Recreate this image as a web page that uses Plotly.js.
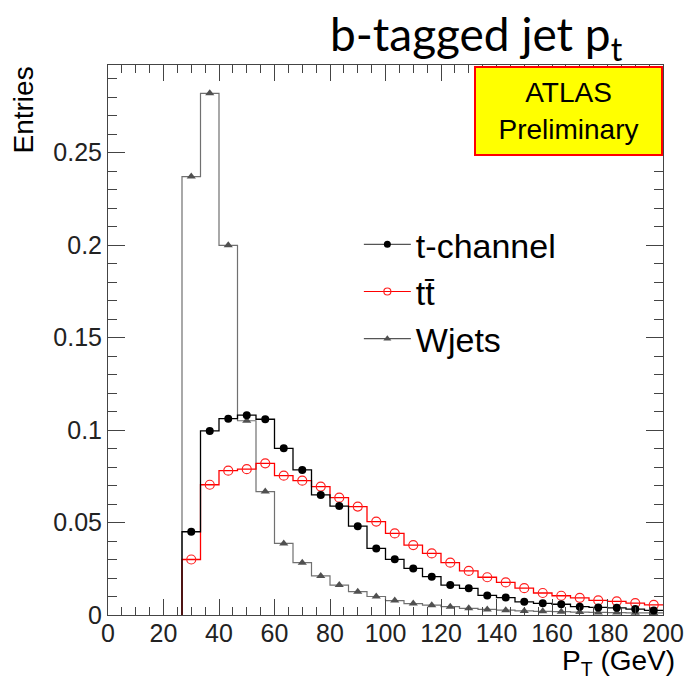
<!DOCTYPE html>
<html>
<head>
<meta charset="utf-8">
<script src="https://cdn.plot.ly/plotly-3.0.1.min.js"></script>
<style>html,body{margin:0;padding:0;background:#fff;}#chart{width:686px;height:681px;}</style>
</head>
<body>
<div id="chart"></div>
<script>
// Histogram binning: 30 bins from 0 to 200 GeV
const nBins = 30;
const xMin = 0;
const xMax = 200;

const seriesNames = ["t-channel", "tt\u0304", "Wjets"];

// Bin contents (normalised entries), one value per bin
const tChannel = [0, 0, 0, 0,
  0.045, 0.0995, 0.1061, 0.108, 0.1058, 0.0901, 0.0784, 0.0649, 0.0589, 0.048,
  0.036, 0.0301, 0.0252, 0.0207, 0.0162, 0.0144, 0.0106, 0.0094, 0.0071, 0.0063,
  0.0058, 0.0045, 0.0041, 0.0039, 0.0032, 0.0025];
const ttbar = [0, 0, 0, 0,
  0.030, 0.0704, 0.078, 0.0788, 0.082, 0.0753, 0.0726, 0.0694, 0.0634, 0.0586,
  0.0505, 0.0441, 0.0378, 0.0333, 0.0283, 0.0238, 0.0204, 0.0176, 0.0145, 0.0119,
  0.0104, 0.0093, 0.0079, 0.0074, 0.0064, 0.0055];
const wjets = [0, 0, 0, 0,
  0.237, 0.282, 0.1998, 0.105, 0.0667, 0.0387, 0.0283, 0.0211, 0.0162, 0.0126,
  0.0100, 0.0078, 0.0062, 0.0053, 0.0045, 0.0036, 0.0030, 0.0026, 0.0022, 0.0020,
  0.0018, 0.0016, 0.0014, 0.0013, 0.0012, 0.0011];

const xTickVals = [0, 20, 40, 60, 80, 100, 120, 140, 160, 180, 200];
const yTickVals = [0, 0.05, 0.1, 0.15, 0.2, 0.25];

const binWidth = (xMax - xMin) / nBins;
const edges = [];
for (let i = 0; i <= nBins; i++) edges.push(xMin + i * binWidth);
const centers = [];
for (let i = 0; i < nBins; i++) centers.push(xMin + (i + 0.5) * binWidth);

function stepTrace(vals, color, width) {
  let first = vals.findIndex(v => v > 0);
  const xs = [edges[first]], ys = [0];
  for (let i = first; i < nBins; i++) { xs.push(edges[i]); ys.push(vals[i]); }
  xs.push(edges[nBins]); ys.push(vals[nBins - 1]);
  return {x: xs, y: ys, type: 'scatter', mode: 'lines', line: {shape: 'hv', color: color, width: width},
          showlegend: false, hoverinfo: 'skip'};
}
function markerTrace(vals, marker) {
  const xs = [], ys = [];
  for (let i = 0; i < nBins; i++) if (vals[i] > 0) { xs.push(centers[i]); ys.push(vals[i]); }
  return {x: xs, y: ys, type: 'scatter', mode: 'markers', marker: marker, showlegend: false, cliponaxis: false};
}
function legendTrace(name, lineColor, marker) {
  return {x: [null], y: [null], type: 'scatter', mode: 'lines+markers', name: name,
          line: {color: lineColor, width: 1.2}, marker: marker, showlegend: true};
}

const mkT = {symbol: 'circle', size: 8, color: '#000'};
const mkTT = {symbol: 'circle-open', size: 9, color: '#ff2020', line: {width: 1.2, color: '#ff2020'}};
const mkW = {symbol: 'triangle-up', size: 8, color: '#505050'};

const data = [
  stepTrace(wjets, '#707070', 1.2),
  stepTrace(ttbar, '#ff0000', 1.3),
  stepTrace(tChannel, '#000000', 1.3),
  markerTrace(wjets, mkW),
  markerTrace(ttbar, mkTT),
  markerTrace(tChannel, mkT),
  legendTrace(seriesNames[0], '#555', {symbol: 'circle', size: 7, color: '#000'}),
  legendTrace(seriesNames[1], '#ff0000', {symbol: 'circle-open', size: 7, color: '#ff2020', line: {width: 1.2, color: '#ff2020'}}),
  legendTrace(seriesNames[2], '#555', {symbol: 'triangle-up', size: 7, color: '#505050'})
];

const tickFont = {family: 'Liberation Sans, Arial, sans-serif', size: 25, color: '#222'};
const axisCommon = {
  showline: true, linecolor: '#444', linewidth: 1, mirror: 'allticks',
  ticks: 'inside', tickcolor: '#444', tickwidth: 1,
  showgrid: false, zeroline: false, tickfont: tickFont, fixedrange: true
};

const layout = {
  width: 686, height: 681,
  margin: {l: 108, r: 23, t: 65, b: 66},
  paper_bgcolor: '#fff', plot_bgcolor: '#fff',
  font: {family: 'Liberation Sans, Arial, sans-serif', color: '#111'},
  xaxis: Object.assign({}, axisCommon, {
    range: [xMin, xMax], tickvals: xTickVals, ticklen: 16, ticklabelstandoff: -4,
    minor: {dtick: 5, ticklen: 8, ticks: 'inside', tickcolor: '#444', showgrid: false}
  }),
  yaxis: Object.assign({}, axisCommon, {
    range: [0, 0.2973], tickvals: yTickVals, ticklen: 17,
    minor: {dtick: 0.01, ticklen: 9, ticks: 'inside', tickcolor: '#444', showgrid: false}
  }),
  legend: {
    x: 0.452, y: 0.726, xanchor: 'left', yanchor: 'top',
    bgcolor: 'rgba(0,0,0,0)', itemwidth: 47,
    font: {family: 'Liberation Sans, Arial, sans-serif', size: 34, color: '#000'},
    traceorder: 'normal'
  },
  showlegend: true,
  annotations: [
    {text: 'b-tagged jet p<sub>t</sub>', xref: 'paper', yref: 'paper',
     x: (625 - 108) / 555, y: 1 + (65 - 4) / 550, xanchor: 'right', yanchor: 'top', showarrow: false,
     font: {family: 'Lato, sans-serif', size: 46, color: '#000'}},
    {text: 'ATLAS<br>Preliminary', xref: 'paper', yref: 'paper', x: 1, y: 1 - 1 / 550,
     xanchor: 'right', yanchor: 'top', showarrow: false, bgcolor: '#ffff00', bordercolor: '#ff0000',
     borderwidth: 2, borderpad: 0, width: 185, height: 86,
     font: {family: 'Liberation Sans, Arial, sans-serif', size: 28, color: '#000'}},
    {text: 'Entries', xref: 'paper', yref: 'paper', x: (23 - 108) / 555, y: 1, xanchor: 'center', yanchor: 'top',
     textangle: -90, showarrow: false, font: {family: 'Liberation Sans, Arial, sans-serif', size: 28, color: '#000'}},
    {text: 'P<sub>T</sub> (GeV)', xref: 'paper', yref: 'paper', x: (677 - 108) / 555, y: -(662 - 615) / 550,
     xanchor: 'right', yanchor: 'middle', showarrow: false,
     font: {family: 'Liberation Sans, Arial, sans-serif', size: 28, color: '#000'}}
  ]
};

Plotly.newPlot('chart', data, layout, {displayModeBar: false, staticPlot: true});
</script>
</body>
</html>
